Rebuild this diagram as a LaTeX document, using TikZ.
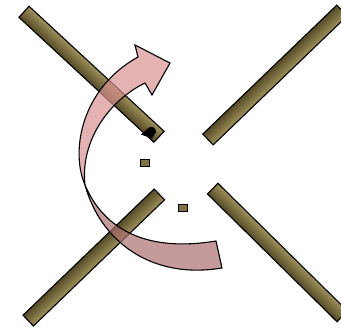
\documentclass[tikz,border=0pt]{standalone}
\definecolor{olivedark}{RGB}{84,74,38}
\definecolor{olivelight}{RGB}{160,146,92}
\definecolor{olivemid}{RGB}{128,116,68}
\definecolor{pinklight}{RGB}{216,145,145}
\definecolor{pinkdark}{RGB}{171,111,111}
\tikzset{
  bar/.style={draw=black, line width=1.1pt},
  smallsq/.style={draw=black, line width=0.9pt, fill=olivemid},
  band/.style={draw=black, line width=1.1pt, fill opacity=0.7, line join=miter}
}
\begin{document}
\begin{tikzpicture}[x=1pt,y=-1pt]
\useasboundingbox (0,0) rectangle (341,328);
\clip (0,0) rectangle (341,328);
% bars
\begin{scope}[transform canvas={shift={(91.5,74.3)},rotate=-42.8}]
  \shade[bar, top color=olivelight, bottom color=olivedark] (-92,-7.5) rectangle (92,7.5);
\end{scope}
\begin{scope}[transform canvas={shift={(275,75)},rotate=43.9}]
  \shade[bar, top color=olivedark, bottom color=olivelight] (-93,-7.5) rectangle (93,7.5);
\end{scope}
\begin{scope}[transform canvas={shift={(93.8,257.5)},rotate=43.9}]
  \shade[bar, top color=olivedark, bottom color=olivelight] (-91,-7.5) rectangle (91,7.5);
\end{scope}
\begin{scope}[transform canvas={shift={(277.5,252.5)},rotate=-44.6}]
  \shade[bar, top color=olivelight, bottom color=olivedark] (-91,-7.5) rectangle (91,7.5);
\end{scope}
% small squares
\draw[smallsq] (140,159) rectangle (149,166);
\draw[smallsq] (178,204) rectangle (187,211);
% black blob
\fill[black] (141,134.5) -- (147,129) .. controls (151,125) and (156,127) .. (156,132) -- (152,138.5) -- cycle;
% twisted arrow: lower (back) part
\filldraw[band, fill=pinkdark] (85,185) .. controls (100,240) and (150,280) .. (222,268)
  -- (216,241) .. controls (150,252) and (105,232) .. (85,185) -- cycle;
% upper (front) part with head
\filldraw[band, fill=pinklight] (85,185) .. controls (70,150) and (82,88) .. (138,57)
  -- (135,45) -- (170,63) -- (152,95) -- (145,83)
  .. controls (110,100) and (80,140) .. (85,185) -- cycle;
\end{tikzpicture}
\end{document}
